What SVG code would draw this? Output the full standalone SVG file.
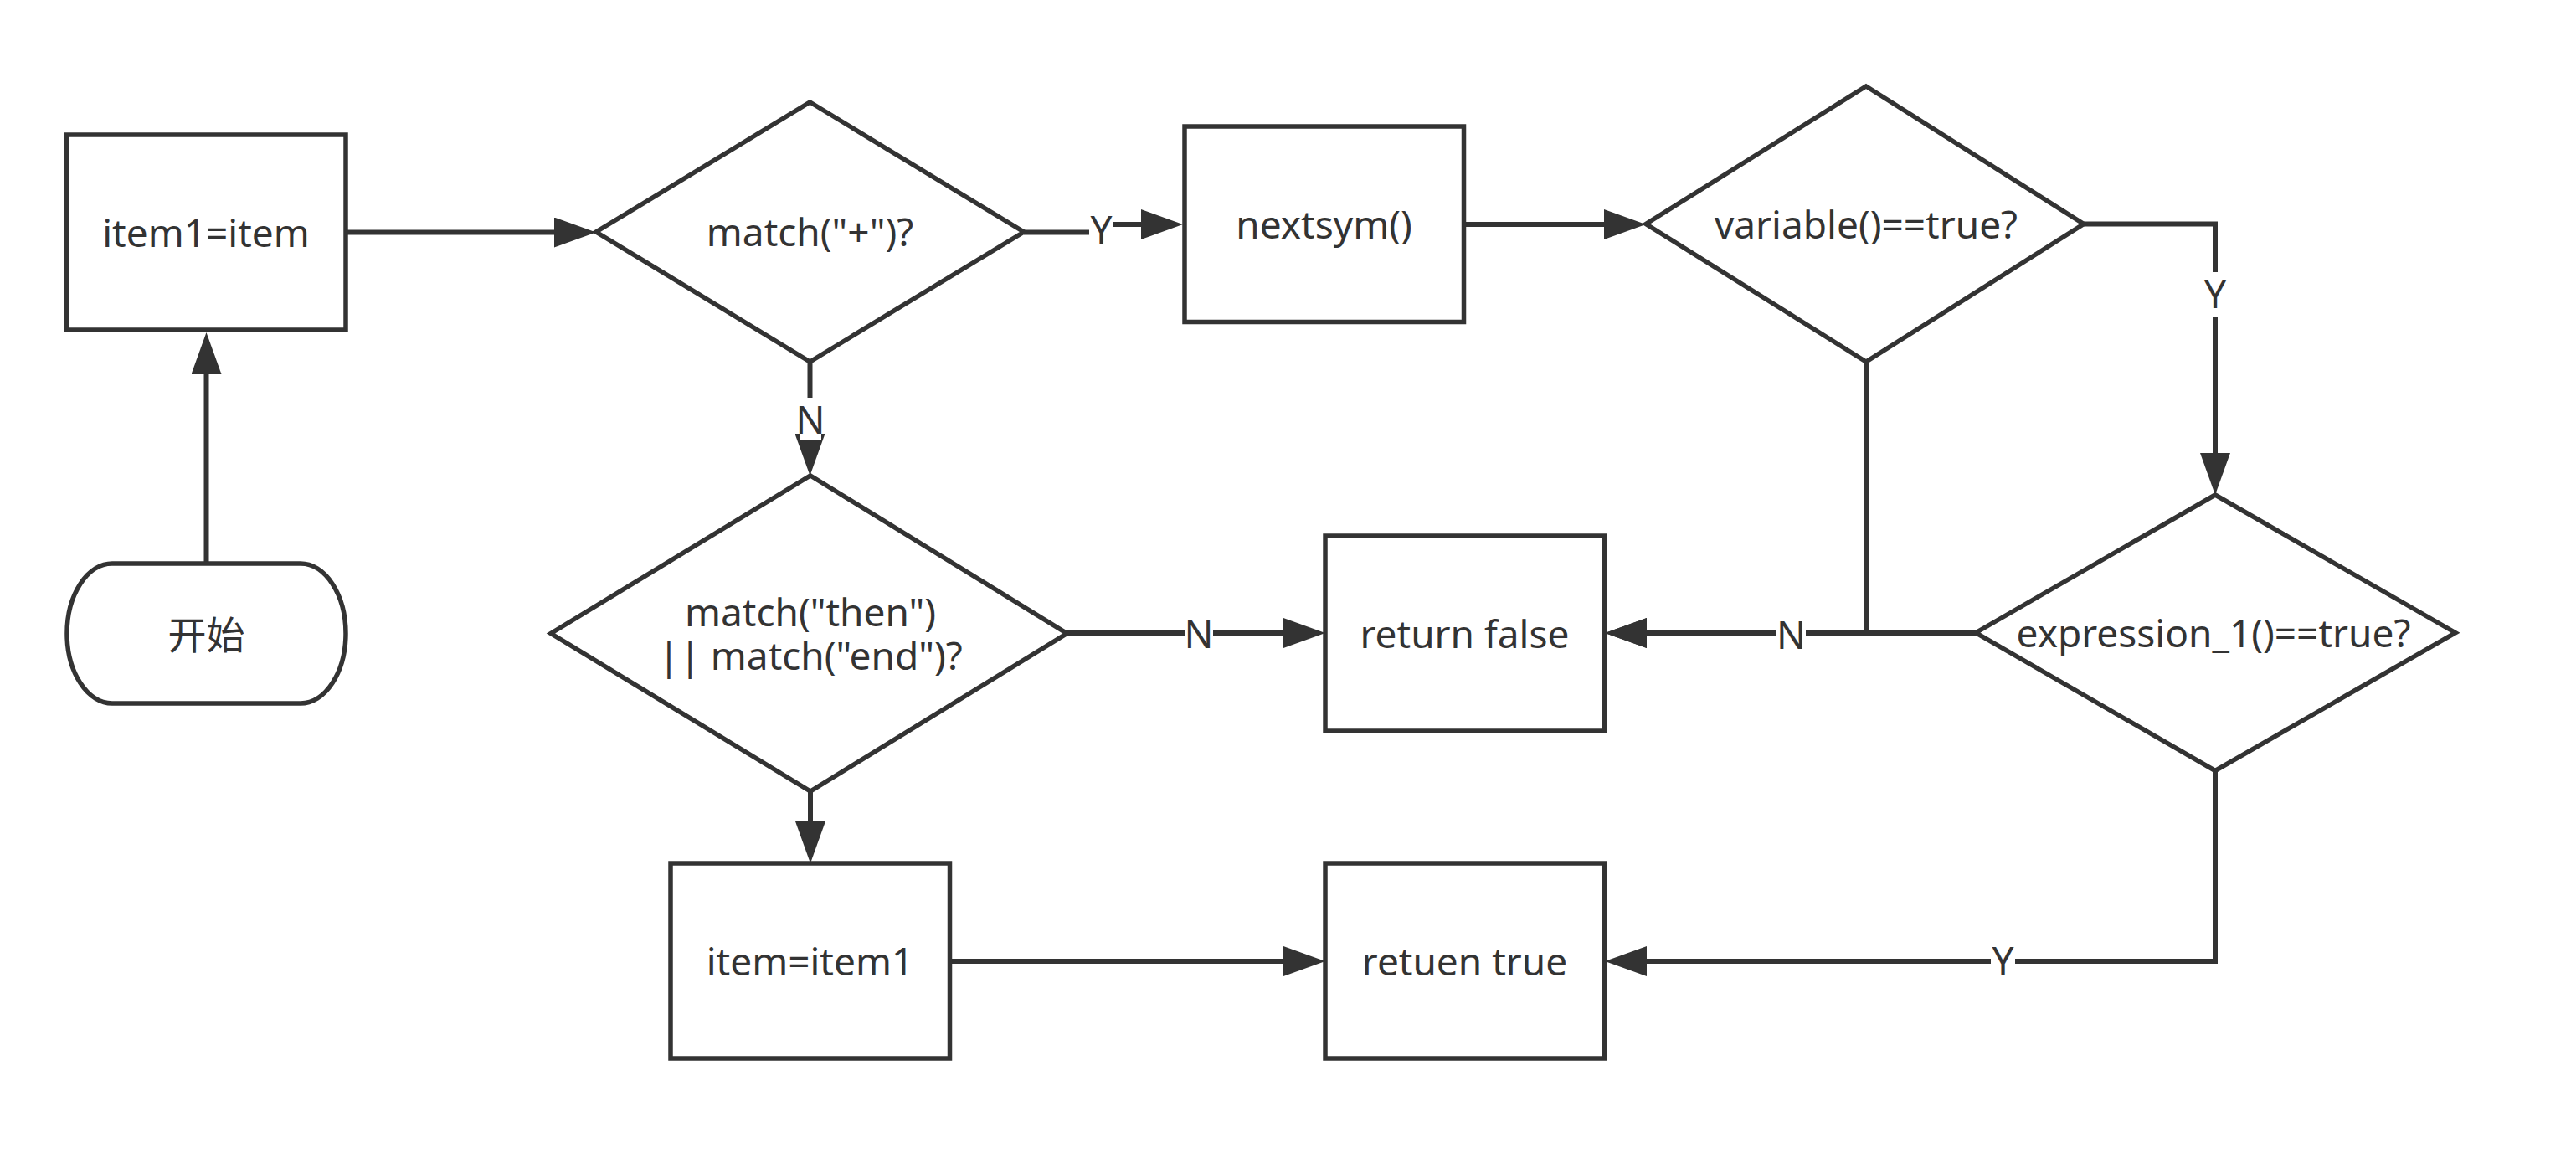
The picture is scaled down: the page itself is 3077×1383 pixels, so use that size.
<svg xmlns="http://www.w3.org/2000/svg" width="3077" height="1383" viewBox="0 0 3077 1383">
<style>
.node{fill:#ffffff;stroke:#333333;stroke-width:5.5}
.edge{fill:none;stroke:#333333;stroke-width:6}
.t{font-family:"Noto Sans","Noto Sans CJK SC",sans-serif;font-size:46px;fill:#333333;text-anchor:middle}
.lbg{fill:#ffffff}
</style>
<defs>
<marker id="arr" viewBox="0 0 50 36" refX="30" refY="18" markerWidth="50" markerHeight="36" markerUnits="userSpaceOnUse" orient="auto">
<path d="M0,0 L50,18 L0,36 Z" fill="#333333"/>
</marker>
</defs>
<rect width="3077" height="1383" fill="#ffffff"/>
<g id="connectors">
<path class="edge" d="M246.5,673 V417" marker-end="url(#arr)"/>
<path class="edge" d="M413,277.5 H692" marker-end="url(#arr)"/>
<path class="edge" d="M1223,277.5 H1315 V268 H1393" marker-end="url(#arr)"/>
<path class="edge" d="M1748.5,268 H1946" marker-end="url(#arr)"/>
<path class="edge" d="M967.5,432 V548" marker-end="url(#arr)"/>
<path class="edge" d="M2489,267.5 H2646 V571" marker-end="url(#arr)"/>
<path class="edge" d="M1274,756 H1563" marker-end="url(#arr)"/>
<path class="edge" d="M2229,432 V756 H1937" marker-end="url(#arr)"/>
<path class="edge" d="M2360,756 H1937" marker-end="url(#arr)"/>
<path class="edge" d="M968,945 V1011" marker-end="url(#arr)"/>
<path class="edge" d="M1134.5,1148 H1563" marker-end="url(#arr)"/>
<path class="edge" d="M2646,920.5 V1148 H1937" marker-end="url(#arr)"/>
<g id="edge-labels">
<rect class="lbg" x="1301" y="250" width="28" height="50"/>
<text class="t" x="1315.5" y="291">Y</text>
<rect class="lbg" x="955" y="475" width="26" height="50"/>
<text class="t" x="968" y="518">N</text>
<rect class="lbg" x="2632" y="325" width="28" height="53"/>
<text class="t" x="2646" y="368">Y</text>
<rect class="lbg" x="1415" y="735" width="34" height="45"/>
<text class="t" x="1432" y="774">N</text>
<rect class="lbg" x="2122" y="735" width="35" height="45"/>
<text class="t" x="2139.5" y="775">N</text>
<rect class="lbg" x="2378" y="1125" width="29" height="45"/>
<text class="t" x="2392.5" y="1164">Y</text>
</g>
</g>
<g id="start">
<rect class="node" x="80" y="673" width="333" height="167" rx="54" ry="83.5"/>
<text class="t" x="246.5" y="775">开始</text>
</g>
<g id="item1-assign">
<rect class="node" x="79.5" y="161" width="333.5" height="233"/>
<text class="t" x="246" y="294.5">item1=item</text>
</g>
<g id="match-plus">
<polygon class="node" points="967.5,122 1223,277 967.5,432 712,277"/>
<text class="t" x="967.5" y="294">match("+")?</text>
</g>
<g id="nextsym">
<rect class="node" x="1415" y="151" width="333.5" height="233.5"/>
<text class="t" x="1581.5" y="285">nextsym()</text>
</g>
<g id="variable">
<polygon class="node" points="2229,103 2489,267.5 2229,432 1966,267.5"/>
<text class="t" x="2229" y="284.5">variable()==true?</text>
</g>
<g id="match-then-end">
<polygon class="node" points="968,568 1274.5,756.5 968,945 658,756.5"/>
<text class="t" x="968" y="748"><tspan x="968" y="748">match("then")</tspan><tspan x="968" y="800">|| match("end")?</tspan></text>
</g>
<g id="return-false">
<rect class="node" x="1583" y="640" width="333.5" height="233"/>
<text class="t" x="1749.5" y="773.5">return false</text>
</g>
<g id="expression">
<polygon class="node" points="2646,591 2933,755.7 2646,920.5 2360,755.7"/>
<text class="t" x="2644" y="772.5">expression_1()==true?</text>
</g>
<g id="item-restore">
<rect class="node" x="801" y="1031" width="333.5" height="233"/>
<text class="t" x="967.5" y="1164.5">item=item1</text>
</g>
<g id="return-true">
<rect class="node" x="1583" y="1031" width="333.5" height="233"/>
<text class="t" x="1749.5" y="1164.5">retuen true</text>
</g>
</svg>
